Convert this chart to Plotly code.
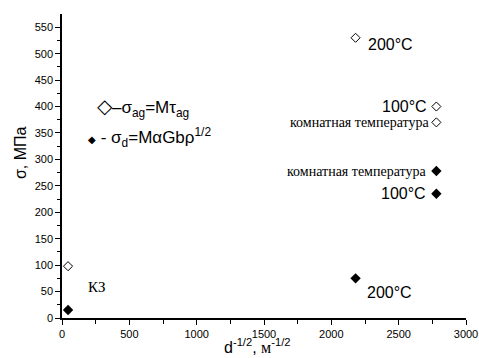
import plotly.graph_objects as go

# open diamonds: sigma_ag
ag_x = [45, 2180, 2780, 2780]
ag_y = [98, 530, 400, 370]
# filled diamonds: sigma_d
d_x = [45, 2180, 2780, 2780]
d_y = [15, 75, 278, 235]

x_ticks = [0, 500, 1000, 1500, 2000, 2500, 3000]
y_ticks = list(range(0, 551, 50))

fig = go.Figure()
fig.add_trace(go.Scatter(x=ag_x, y=ag_y, mode="markers",
                         marker=dict(symbol="diamond-open", size=7, color="black", line=dict(width=1)),
                         showlegend=False))
fig.add_trace(go.Scatter(x=d_x, y=d_y, mode="markers",
                         marker=dict(symbol="diamond", size=8, color="black"),
                         showlegend=False))

sans = "Liberation Sans, Arial, sans-serif"
serif = "Liberation Serif, Times New Roman, serif"

def ann(x, y, text, font, size, xanchor="left", xshift=0, yshift=0):
    fig.add_annotation(x=x, y=y, xref="x", yref="y", text=text, showarrow=False,
                       font=dict(family=font, size=size, color="black"),
                       xanchor=xanchor, yanchor="middle", xshift=xshift, yshift=yshift)

ann(ag_x[1], ag_y[1], "200°C", sans, 16, "left", 10, -7)
ann(ag_x[2], ag_y[2], "100°C", sans, 16, "right", -7, 0)
ann(ag_x[3], ag_y[3], "комнатная температура", serif, 14, "right", -5, 0)
ann(d_x[2], d_y[2], "комнатная температура", serif, 14, "right", -8, 0)
ann(d_x[3], d_y[3], "100°C", sans, 16, "right", -8, 0)
ann(d_x[1], d_y[1], "200°C", sans, 16, "left", 9, -14)
ann(d_x[0], d_y[0], "КЗ", serif, 15, "left", 18, 23)

# legend-like annotations
fig.add_annotation(x=(95 - 62) / 404, y=(318 - 107) / 304, xref="paper", yref="paper", showarrow=False,
                   xanchor="left", yanchor="middle",
                   text="<span style='font-size:20px'>◇</span>–σ<sub>ag</sub>=Mτ<sub>ag</sub>",
                   font=dict(family=sans, size=17, color="black"))
fig.add_annotation(x=(86 - 62) / 404, y=(318 - 137) / 304, xref="paper", yref="paper", showarrow=False,
                   xanchor="left", yanchor="middle",
                   text="<span style='font-size:10px'>◆</span> - σ<sub>d</sub>=MαGbρ<sup>1/2</sup>",
                   font=dict(family=sans, size=17, color="black"))

# axis titles
fig.add_annotation(x=(20 - 62) / 404, y=(318 - 153) / 304, xref="paper", yref="paper", showarrow=False,
                   xanchor="center", yanchor="middle", textangle=-90, text="σ, МПа",
                   font=dict(family=sans, size=16, color="black"))
fig.add_annotation(x=(257 - 62) / 404, y=(318 - 346) / 304, xref="paper", yref="paper", showarrow=False,
                   xanchor="center", yanchor="middle",
                   text="d<sup>-1/2</sup>, <span style='font-family:Liberation Serif'>м</span><sup>-1/2</sup>",
                   font=dict(family=sans, size=16, color="black"))

axis_common = dict(showline=True, linecolor="black", linewidth=1.5, showgrid=False,
                   zeroline=False, ticks="outside", ticklen=5, tickwidth=1, tickcolor="black",
                   tickfont=dict(family=sans, size=11, color="black"), mirror=False,
                   automargin=False)

fig.update_xaxes(range=[0, 3000], tickvals=x_ticks, ticktext=[str(v) for v in x_ticks],
                 minor=dict(tickvals=list(range(250, 3000, 500)), ticks="outside", ticklen=4,
                            tickcolor="black"),
                 **axis_common)
fig.update_yaxes(range=[0, 575], tickvals=y_ticks, ticktext=[str(v) for v in y_ticks],
                 minor=dict(tickvals=list(range(25, 575, 50)), ticks="outside", ticklen=3,
                            tickcolor="black"),
                 **axis_common)

fig.update_layout(width=479, height=358, margin=dict(l=62, r=13, t=14, b=40),
                  plot_bgcolor="white", paper_bgcolor="white", showlegend=False)

fig.write_html("out.html")
